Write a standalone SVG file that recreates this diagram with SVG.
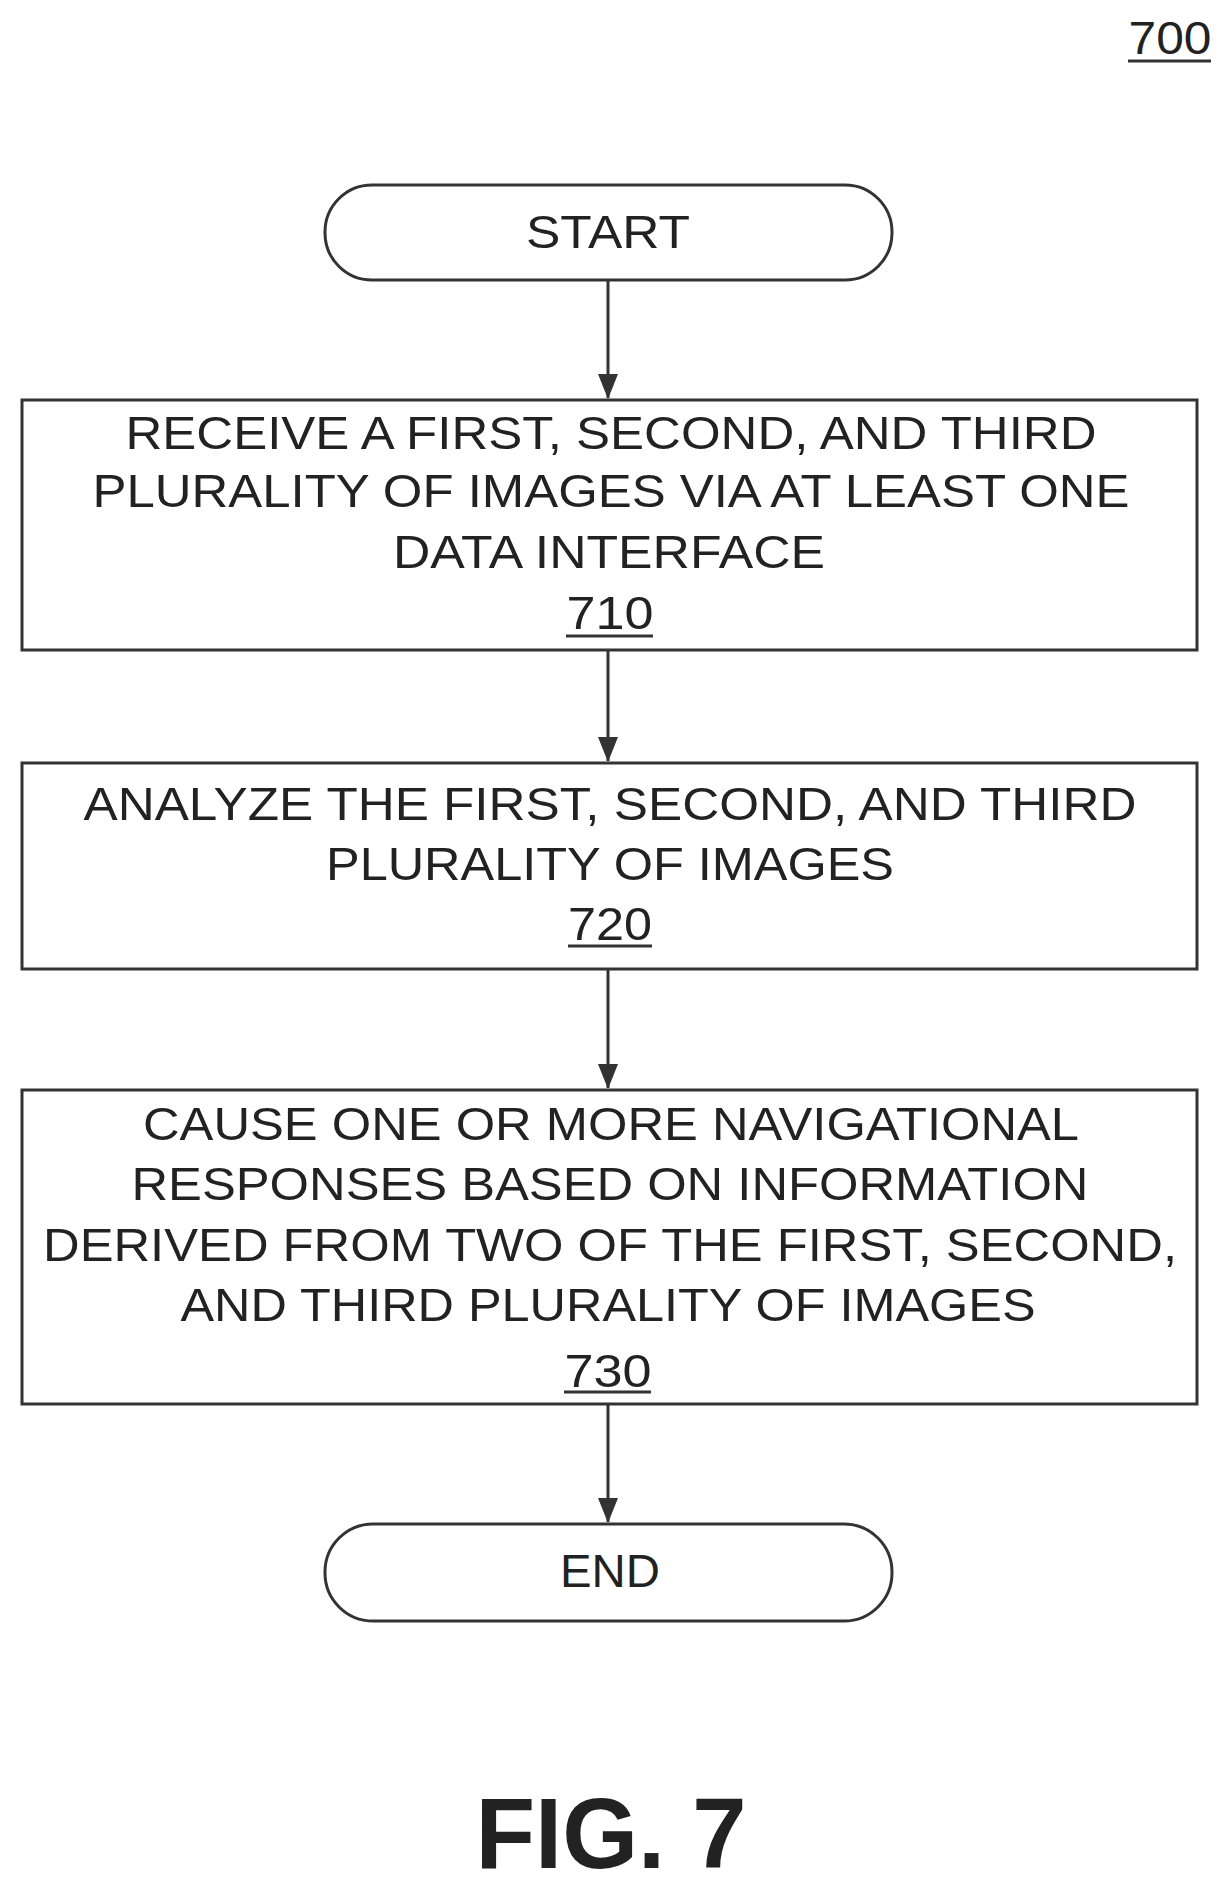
<svg xmlns="http://www.w3.org/2000/svg" width="1220" height="1889" viewBox="0 0 1220 1889">
<style>
.b{fill:#fff;stroke:#333;stroke-width:3}
.t{font-family:"Liberation Sans",Arial,sans-serif;font-size:46px;fill:#222;text-anchor:middle}
.c{stroke:#333;stroke-width:3;fill:none}
.u{stroke:#333;stroke-width:3}
</style>
<defs><marker id="ah" markerWidth="26" markerHeight="22" refX="24" refY="11" orient="auto" markerUnits="userSpaceOnUse"><path d="M0,1 L25,11 L0,21 Z" fill="#333"/></marker></defs>
<text class="t" x="1170" y="54" textLength="83" lengthAdjust="spacingAndGlyphs">700</text>
<path class="u" d="M1128,61 H1211"/>
<g id="connectors">
<path class="c" d="M608,281 V398" marker-end="url(#ah)"/>
<path class="c" d="M608,651 V761" marker-end="url(#ah)"/>
<path class="c" d="M608,970 V1088" marker-end="url(#ah)"/>
<path class="c" d="M608,1405 V1522" marker-end="url(#ah)"/>
</g>
<g id="start"><rect class="b" x="325" y="185" width="567" height="95" rx="47"/>
<text class="t" x="608" y="248" textLength="164" lengthAdjust="spacingAndGlyphs">START</text></g>
<g id="n710"><rect class="b" x="22" y="400" width="1175" height="250"/>
<text class="t" x="611" y="449" textLength="971" lengthAdjust="spacingAndGlyphs">RECEIVE A FIRST, SECOND, AND THIRD</text>
<text class="t" x="611" y="507" textLength="1037" lengthAdjust="spacingAndGlyphs">PLURALITY OF IMAGES VIA AT LEAST ONE</text>
<text class="t" x="609" y="568" textLength="432" lengthAdjust="spacingAndGlyphs">DATA INTERFACE</text>
<text class="t" x="610" y="629" textLength="87" lengthAdjust="spacingAndGlyphs">710</text>
<path class="u" d="M566,636 H653"/></g>
<g id="n720"><rect class="b" x="22" y="763" width="1175" height="206"/>
<text class="t" x="610" y="820" textLength="1053" lengthAdjust="spacingAndGlyphs">ANALYZE THE FIRST, SECOND, AND THIRD</text>
<text class="t" x="610" y="880" textLength="568" lengthAdjust="spacingAndGlyphs">PLURALITY OF IMAGES</text>
<text class="t" x="610" y="940" textLength="84" lengthAdjust="spacingAndGlyphs">720</text>
<path class="u" d="M568,946 H652"/></g>
<g id="n730"><rect class="b" x="22" y="1090" width="1175" height="314"/>
<text class="t" x="611" y="1140" textLength="936" lengthAdjust="spacingAndGlyphs">CAUSE ONE OR MORE NAVIGATIONAL</text>
<text class="t" x="610" y="1200" textLength="957" lengthAdjust="spacingAndGlyphs">RESPONSES BASED ON INFORMATION</text>
<text class="t" x="610" y="1261" textLength="1134" lengthAdjust="spacingAndGlyphs">DERIVED FROM TWO OF THE FIRST, SECOND,</text>
<text class="t" x="608" y="1321" textLength="855" lengthAdjust="spacingAndGlyphs">AND THIRD PLURALITY OF IMAGES</text>
<text class="t" x="608" y="1387" textLength="87" lengthAdjust="spacingAndGlyphs">730</text>
<path class="u" d="M564,1392 H651"/></g>
<g id="end"><rect class="b" x="325" y="1524" width="567" height="97" rx="48"/>
<text class="t" x="610" y="1587" textLength="100" lengthAdjust="spacingAndGlyphs">END</text></g>
<text x="611" y="1868" font-family="Liberation Sans,Arial,sans-serif" font-weight="bold" font-size="100" fill="#222" text-anchor="middle" textLength="271" lengthAdjust="spacingAndGlyphs">FIG. 7</text>
</svg>
